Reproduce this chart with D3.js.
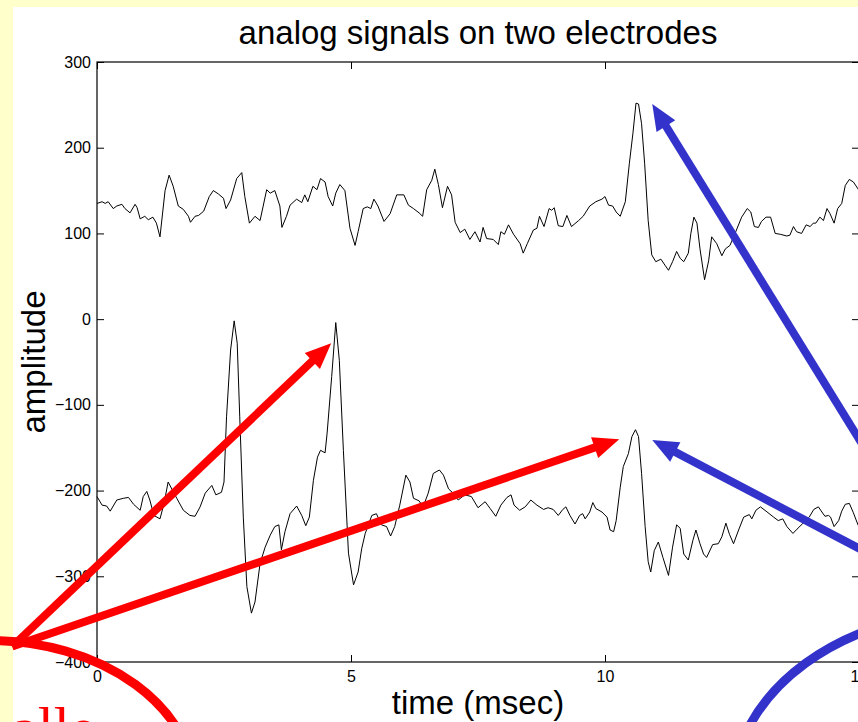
<!DOCTYPE html>
<html>
<head>
<meta charset="utf-8">
<script src="https://cdn.jsdelivr.net/npm/d3@7"></script>
<style>
body { margin: 0; background: #ffffcc; }
svg { display: block; }
text { font-family: "Liberation Sans", Arial, Helvetica, sans-serif; }
</style>
</head>
<body>
<div id="chart"></div>
<script>
// electrode 1 (upper) and electrode 2 (lower), [time ms, amplitude]
var upperTrace = [[0,135],[0.1,137],[0.16,135],[0.22,137],[0.32,129],[0.39,132],[0.49,134],[0.55,129],[0.65,124],[0.75,134],[0.79,130],[0.85,117],[0.94,120],[1.01,116],[1.1,119],[1.17,112],[1.24,96],[1.34,150],[1.42,168],[1.5,155],[1.6,132],[1.7,128],[1.8,120],[1.84,113],[1.93,120],[2.0,121],[2.1,126],[2.21,143],[2.29,150],[2.39,146],[2.49,141],[2.54,129],[2.63,139],[2.75,164],[2.85,171],[2.91,143],[3.0,112],[3.11,120],[3.21,115],[3.34,151],[3.41,147],[3.5,150],[3.6,132],[3.64,107],[3.73,120],[3.8,133],[3.93,140],[4.03,136],[4.09,145],[4.15,137],[4.25,155],[4.33,151],[4.4,164],[4.49,160],[4.55,143],[4.64,132],[4.7,147],[4.78,157],[4.88,150],[4.98,106],[5.08,86],[5.14,102],[5.24,129],[5.32,131],[5.39,129],[5.45,140],[5.53,132],[5.65,114],[5.77,123],[5.9,145],[6.04,145],[6.13,133],[6.23,129],[6.34,124],[6.41,120],[6.49,151],[6.59,162],[6.65,175],[6.72,157],[6.8,130],[6.9,155],[6.98,145],[7.05,113],[7.15,101],
    [7.24,105],[7.34,93],[7.44,102],[7.54,90],[7.6,107],[7.67,94],[7.8,93],[7.9,87],[7.95,102],[8.02,99],[8.1,110],[8.2,99],[8.33,88],[8.39,77],[8.47,88],[8.59,104],[8.66,106],[8.71,120],[8.8,108],[8.9,129],[8.95,127],[9.0,130],[9.08,109],[9.17,108],[9.25,121],[9.34,108],[9.48,115],[9.57,120],[9.7,132],[9.82,137],[9.94,140],[10.0,143],[10.07,133],[10.15,132],[10.22,125],[10.3,120],[10.4,137],[10.48,182],[10.55,217],[10.61,252],[10.66,251],[10.72,228],[10.78,182],[10.85,115],[10.92,75],[11.0,67],[11.1,70],[11.18,63],[11.25,57],[11.33,67],[11.41,79],[11.48,71],[11.55,67],[11.64,77],[11.69,100],[11.75,119],[11.81,112],[11.87,82],[11.96,46],[12.04,68],[12.1,96],[12.2,88],[12.3,74],[12.37,82],[12.46,86],[12.56,100],[12.69,119],[12.8,129],[12.87,125],[12.94,108],[13.02,107],[13.08,114],[13.17,119],[13.26,119],[13.35,100],[13.45,99],[13.58,97],[13.64,98],[13.71,108],[13.77,102],[13.87,100],[13.96,110],[14.04,108],[14.1,112],[14.15,112],[14.23,119],[14.3,115],[14.37,129],[14.43,123],[14.51,112],[14.58,129],[14.66,135],[14.73,156],[14.81,163],[14.89,160],[14.98,152],[15,150]];

var lowerTrace = [[0,-207],[0.1,-217],[0.19,-218],[0.26,-224],[0.39,-211],[0.52,-209],[0.62,-208],[0.72,-216],[0.85,-223],[0.91,-207],[0.98,-201],[1.04,-211],[1.12,-229],[1.24,-233],[1.32,-215],[1.4,-190],[1.49,-200],[1.57,-209],[1.7,-223],[1.83,-229],[1.93,-230],[2.03,-219],[2.13,-203],[2.26,-194],[2.34,-205],[2.45,-202],[2.5,-190],[2.55,-114],[2.63,-36],[2.7,-2],[2.76,-28],[2.81,-114],[2.88,-231],[2.95,-312],[3.04,-343],[3.11,-330],[3.21,-285],[3.31,-266],[3.41,-252],[3.5,-242],[3.58,-240],[3.63,-269],[3.7,-248],[3.8,-227],[3.93,-218],[4.03,-229],[4.11,-241],[4.18,-231],[4.26,-188],[4.34,-161],[4.4,-153],[4.49,-156],[4.53,-133],[4.62,-67],[4.7,-4],[4.77,-48],[4.85,-153],[4.95,-273],[5.05,-310],[5.14,-295],[5.21,-268],[5.28,-250],[5.41,-229],[5.5,-227],[5.6,-240],[5.7,-242],[5.78,-253],[5.86,-242],[5.96,-217],[6.08,-182],[6.16,-190],[6.23,-209],[6.34,-212],[6.42,-219],[6.52,-203],[6.62,-180],[6.74,-176],[6.82,-182],[6.92,-198],[7.01,-203],
    [7.11,-211],[7.24,-205],[7.37,-207],[7.5,-220],[7.64,-213],[7.74,-221],[7.85,-230],[7.95,-217],[8.07,-208],[8.15,-205],[8.21,-217],[8.32,-223],[8.43,-219],[8.54,-211],[8.66,-217],[8.79,-222],[8.88,-220],[8.98,-222],[9.08,-229],[9.17,-222],[9.23,-219],[9.31,-229],[9.41,-239],[9.5,-229],[9.56,-227],[9.61,-233],[9.7,-225],[9.76,-214],[9.82,-221],[9.94,-225],[10.04,-231],[10.1,-246],[10.17,-248],[10.22,-235],[10.3,-196],[10.36,-172],[10.46,-157],[10.53,-137],[10.6,-129],[10.66,-137],[10.72,-180],[10.79,-242],[10.85,-283],[10.9,-295],[10.97,-270],[11.05,-260],[11.14,-278],[11.25,-299],[11.33,-266],[11.41,-240],[11.48,-244],[11.55,-274],[11.64,-281],[11.73,-258],[11.79,-246],[11.87,-262],[11.94,-274],[12.0,-278],[12.12,-263],[12.23,-262],[12.3,-254],[12.38,-238],[12.45,-251],[12.53,-262],[12.63,-246],[12.73,-231],[12.84,-228],[12.89,-233],[12.97,-223],[13.06,-219],[13.17,-224],[13.32,-231],[13.41,-235],[13.5,-233],[13.58,-242],[13.7,-250],[13.78,-245],[13.9,-238],[14.02,-231],[14.11,-222],[14.2,-219],[14.27,-225],[14.33,-230],[14.4,-229],[14.44,-231],[14.51,-242],[14.6,-235],[14.66,-224],[14.73,-216],[14.81,-215],[14.89,-226],[14.98,-240],[15,-242]];

var xTicks = [0, 5, 10, 15];
var yTicks = [-400, -300, -200, -100, 0, 100, 200, 300];

// annotation arrows, in data units: [tail time, tail amp] -> [tip time, tip amp]
var redArrows = [
    [[-1.67, -382], [4.61, -28]],
    [[-1.67, -382], [10.28, -140]]
];
var blueArrows = [
    [[16.69, -302], [10.93, 251]],
    [[16.69, -320], [10.93, -141]]
];
// ellipses: [centre time, centre amp, radius ms, radius amp]
var redRing = [-2.1, -550, 4.04, 175];
var blueRing = [17.38, -550, 4.86, 210];

var margin = { top: 62, right: 0, bottom: 60, left: 97 },
    width = 762,
    height = 600,
    red = "#ff0000",
    blue = "#3333cc";

var svg = d3.select("#chart").append("svg")
    .attr("width", 858)
    .attr("height", 722);

svg.append("rect").attr("width", 858).attr("height", 722).style("fill", "#ffffcc");
svg.append("rect").attr("x", 13).attr("y", 7).attr("width", 858).attr("height", 722).style("fill", "#ffffff");

var g = svg.append("g")
    .attr("transform", "translate(" + margin.left + "," + margin.top + ")");

var x = d3.scaleLinear().domain([0, 15]).range([0, width]);
var y = d3.scaleLinear().domain([-400, 300]).range([height, 0]);

var line = d3.line()
    .x(function (d) { return x(d[0]); })
    .y(function (d) { return y(d[1]); });

[upperTrace, lowerTrace].forEach(function (tr) {
    g.append("path")
        .datum(tr)
        .attr("d", line)
        .attr("fill", "none")
        .attr("stroke", "black")
        .attr("stroke-width", 1);
});

// box axes, ticks pointing inward like matlab
g.append("g")
    .attr("transform", "translate(0," + height + ")")
    .call(d3.axisBottom(x).tickValues(xTicks).tickSizeInner(-7).tickSizeOuter(0).tickPadding(9));
g.append("g")
    .call(d3.axisTop(x).tickValues(xTicks).tickSizeInner(-7).tickSizeOuter(0).tickFormat(""));
g.append("g")
    .call(d3.axisLeft(y).tickValues(yTicks).tickSizeInner(-7).tickSizeOuter(0).tickPadding(6));
g.append("g")
    .attr("transform", "translate(" + width + ",0)")
    .call(d3.axisRight(y).tickValues(yTicks).tickSizeInner(-7).tickSizeOuter(0).tickFormat(""));

g.selectAll(".tick text")
    .style("font-size", "16px")
    .style("font-family", "'Liberation Sans', Arial, sans-serif")
    .attr("fill", "black");
g.selectAll(".domain").remove();

g.append("rect")
    .attr("width", width)
    .attr("height", height)
    .attr("fill", "none")
    .attr("stroke", "black")
    .attr("stroke-width", 1.2);

svg.append("text")
    .attr("x", margin.left + width / 2)
    .attr("y", 44)
    .style("text-anchor", "middle")
    .style("font-size", "33px")
    .text("analog signals on two electrodes");

svg.append("text")
    .attr("x", margin.left + width / 2)
    .attr("y", 714)
    .style("text-anchor", "middle")
    .style("font-size", "33px")
    .text("time (msec)");

svg.append("text")
    .attr("transform", "translate(45," + (margin.top + height / 2) + ") rotate(-90)")
    .style("text-anchor", "middle")
    .style("font-size", "33px")
    .text("amplitude");

// annotations
function ring(r, color) {
    g.append("ellipse")
        .attr("cx", x(r[0]))
        .attr("cy", y(r[1]))
        .attr("rx", x(r[0] + r[2]) - x(r[0]))
        .attr("ry", y(r[1] - r[3]) - y(r[1]))
        .attr("fill", "none")
        .attr("stroke", color)
        .attr("stroke-width", 9);
}

function arrow(a, color) {
    var x0 = x(a[0][0]), y0 = y(a[0][1]), x1 = x(a[1][0]), y1 = y(a[1][1]);
    var dx = x1 - x0, dy = y1 - y0;
    var len = Math.sqrt(dx * dx + dy * dy);
    var ux = dx / len, uy = dy / len;
    var L = 26, W = 11;
    var bx = x1 - L * ux, by = y1 - L * uy;
    g.append("line")
        .attr("x1", x0).attr("y1", y0)
        .attr("x2", bx + ux * 2).attr("y2", by + uy * 2)
        .attr("stroke", color)
        .attr("stroke-width", 8);
    g.append("path")
        .attr("d", "M" + x1 + "," + y1 +
            "L" + (bx - W * uy) + "," + (by + W * ux) +
            "L" + (bx + W * uy) + "," + (by - W * ux) + "Z")
        .attr("fill", color);
}

ring(redRing, red);
ring(blueRing, blue);
redArrows.forEach(function (a) { arrow(a, red); });
blueArrows.forEach(function (a) { arrow(a, blue); });

svg.append("text")
    .attr("x", 12)
    .attr("y", 747)
    .style("font-family", "'Liberation Serif', 'Times New Roman', serif")
    .style("font-size", "58px")
    .attr("fill", red)
    .text("alle");
</script>
</body>
</html>
